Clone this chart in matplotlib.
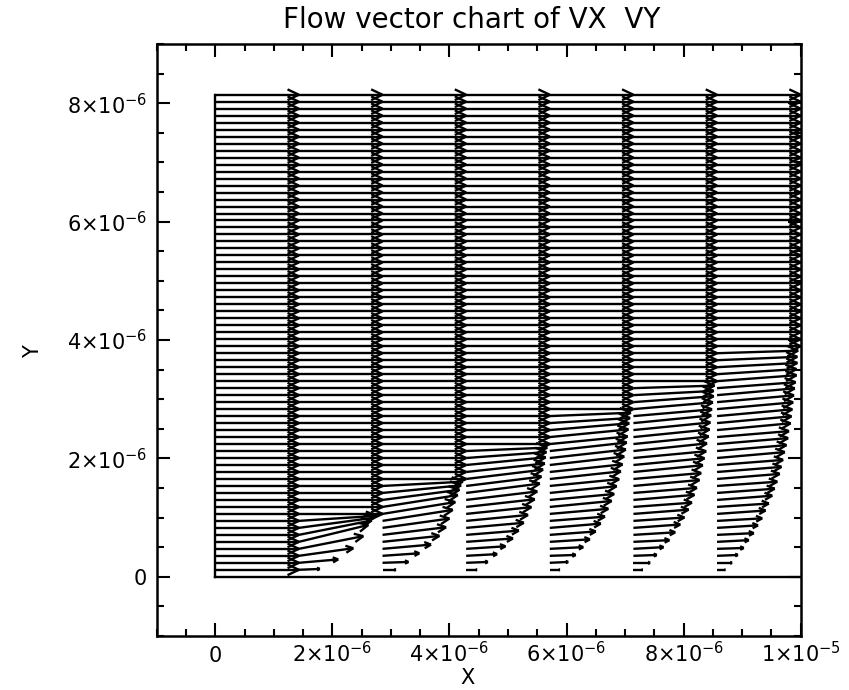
import numpy as np
import matplotlib
matplotlib.use("Agg")
import matplotlib.pyplot as plt
from matplotlib.collections import LineCollection
from matplotlib.ticker import MultipleLocator

plt.rcParams['font.family'] = ['DejaVu Sans']
plt.rcParams['mathtext.fontset'] = 'dejavusans'

# grid of the vector field
col_x = [0.0, 1.4286e-6, 2.8571e-6, 4.2857e-6, 5.7143e-6, 7.1429e-6, 8.5714e-6]
row_dy = 0.118e-6
n_rows = 69
grid_len = 1.4286e-6     # freestream vector is drawn one column wide

# velocity (fraction of freestream) inside the boundary layer, bottom row first;
# rows above these are freestream (u=1, v=0)
u_col0 = []
v_col0 = []
u_col1 = [0.25, 0.47, 0.65, 0.77, 0.83, 0.87, 0.90, 0.93]
v_col1 = [0.01, 0.04, 0.09, 0.15, 0.20, 0.17, 0.12, 0.06]
u_col2 = [0.16, 0.31, 0.44, 0.58, 0.68, 0.76, 0.80, 0.84, 0.87, 0.90, 0.92, 0.94, 0.96]
v_col2 = [0.0, 0.01, 0.03, 0.05, 0.07, 0.09, 0.11, 0.13, 0.14, 0.14, 0.12, 0.09, 0.05]
u_col3 = [0.13, 0.26, 0.37, 0.47, 0.56, 0.63, 0.69, 0.74, 0.78, 0.82, 0.85, 0.88,
          0.90, 0.92, 0.94, 0.95, 0.96, 0.97]
v_col3 = [0.0, 0.01, 0.02, 0.03, 0.04, 0.05, 0.06, 0.07, 0.08, 0.09, 0.10, 0.11,
          0.11, 0.11, 0.10, 0.09, 0.07, 0.04]
u_col4 = [0.12, 0.22, 0.31, 0.40, 0.48, 0.55, 0.61, 0.66, 0.70, 0.74, 0.77, 0.80,
          0.83, 0.85, 0.87, 0.89, 0.91, 0.92, 0.93, 0.94, 0.95, 0.96, 0.97]
v_col4 = [0.0, 0.01, 0.01, 0.02, 0.03, 0.04, 0.05, 0.05, 0.06, 0.07, 0.07, 0.08,
          0.08, 0.09, 0.09, 0.10, 0.10, 0.10, 0.09, 0.09, 0.08, 0.06, 0.04]
u_col5 = [0.11, 0.20, 0.28, 0.36, 0.43, 0.50, 0.56, 0.61, 0.66, 0.70, 0.73, 0.76,
          0.79, 0.81, 0.83, 0.85, 0.87, 0.88, 0.90, 0.91, 0.92, 0.93, 0.94, 0.95,
          0.96, 0.96, 0.97]
v_col5 = [0.0, 0.0, 0.01, 0.02, 0.02, 0.03, 0.04, 0.04, 0.05, 0.05, 0.06, 0.06,
          0.07, 0.07, 0.08, 0.08, 0.08, 0.09, 0.09, 0.09, 0.09, 0.09, 0.08, 0.08,
          0.07, 0.05, 0.03]
u_col6 = [0.10, 0.18, 0.25, 0.32, 0.38, 0.44, 0.49, 0.54, 0.58, 0.62, 0.66, 0.69,
          0.72, 0.75, 0.77, 0.79, 0.81, 0.83, 0.85, 0.86, 0.88, 0.89, 0.90, 0.91,
          0.92, 0.93, 0.94, 0.95, 0.95, 0.96, 0.96, 0.97]
v_col6 = [0.0, 0.0, 0.01, 0.01, 0.02, 0.02, 0.03, 0.03, 0.04, 0.04, 0.05, 0.05,
          0.05, 0.06, 0.06, 0.06, 0.07, 0.07, 0.07, 0.07, 0.08, 0.08, 0.08, 0.08,
          0.08, 0.08, 0.07, 0.07, 0.06, 0.05, 0.04, 0.03]

u_cols = [u_col0, u_col1, u_col2, u_col3, u_col4, u_col5, u_col6]
v_cols = [v_col0, v_col1, v_col2, v_col3, v_col4, v_col5, v_col6]

x_ticks = [0, 2e-6, 4e-6, 6e-6, 8e-6, 1e-5]
x_tick_labels = ['0', r'$2{\times}10^{-6}$', r'$4{\times}10^{-6}$',
                 r'$6{\times}10^{-6}$', r'$8{\times}10^{-6}$', r'$1{\times}10^{-5}$']
y_ticks = [0, 2e-6, 4e-6, 6e-6, 8e-6]
y_tick_labels = ['0', r'$2{\times}10^{-6}$', r'$4{\times}10^{-6}$',
                 r'$6{\times}10^{-6}$', r'$8{\times}10^{-6}$']

fig = plt.figure(figsize=(8.49, 6.9), dpi=100)
ax = fig.add_axes([0.1846, 0.0783, 0.7585, 0.858])

row_y = row_dy * np.arange(1, n_rows + 1)
head_frac = 0.15
head_ang = np.deg2rad(25)

segs = []
for x0, ub, vb in zip(col_x, u_cols, v_cols):
    u = np.ones(n_rows)
    v = np.zeros(n_rows)
    u[:len(ub)] = ub
    v[:len(vb)] = vb
    for y0, uu, vv in zip(row_y, u, v):
        dx = uu * grid_len
        dy = vv * grid_len
        x1, y1 = x0 + dx, y0 + dy
        L = np.hypot(dx, dy)
        th = np.arctan2(dy, dx)
        h = head_frac * L
        segs.append([(x0, y0), (x1, y1)])
        for s in (1, -1):
            a = th + np.pi + s * head_ang
            segs.append([(x1, y1), (x1 + h * np.cos(a), y1 + h * np.sin(a))])

ax.add_collection(LineCollection(segs, colors='black', linewidths=1.7))
# domain boundary: wall and inlet
ax.plot([0, 1e-5], [0, 0], color='black', lw=1.7)
ax.plot([0, 0], [0, row_y[-1]], color='black', lw=1.7)

ax.set_xlim(-1e-6, 1e-5)
ax.set_ylim(-1e-6, 9e-6)
ax.set_xticks(x_ticks, x_tick_labels)
ax.set_yticks(y_ticks, y_tick_labels)
ax.xaxis.set_minor_locator(MultipleLocator(0.5e-6))
ax.yaxis.set_minor_locator(MultipleLocator(0.5e-6))
ax.tick_params(which='both', direction='in', top=True, right=True, width=1.5,
               labelsize=15)
ax.tick_params(which='major', length=9.5)
ax.tick_params(which='minor', length=5)
ax.tick_params(axis='x', pad=19)
ax.tick_params(axis='y', pad=7)
for lbl in ax.get_xticklabels():
    lbl.set_verticalalignment('baseline')
for sp in ax.spines.values():
    sp.set_linewidth(1.8)

ax.set_xlabel('X', fontsize=15)
ax.xaxis.set_label_coords(0.482, -0.071)
ax.xaxis.label.set_verticalalignment('center')
ax.set_ylabel('Y', fontsize=15)
ax.yaxis.set_label_coords(-0.176, 0.48)
fig.text(0.556, 0.971, 'Flow vector chart of VX  VY', ha='center', va='center',
         fontsize=20)

fig.savefig('out.png', dpi=100)
